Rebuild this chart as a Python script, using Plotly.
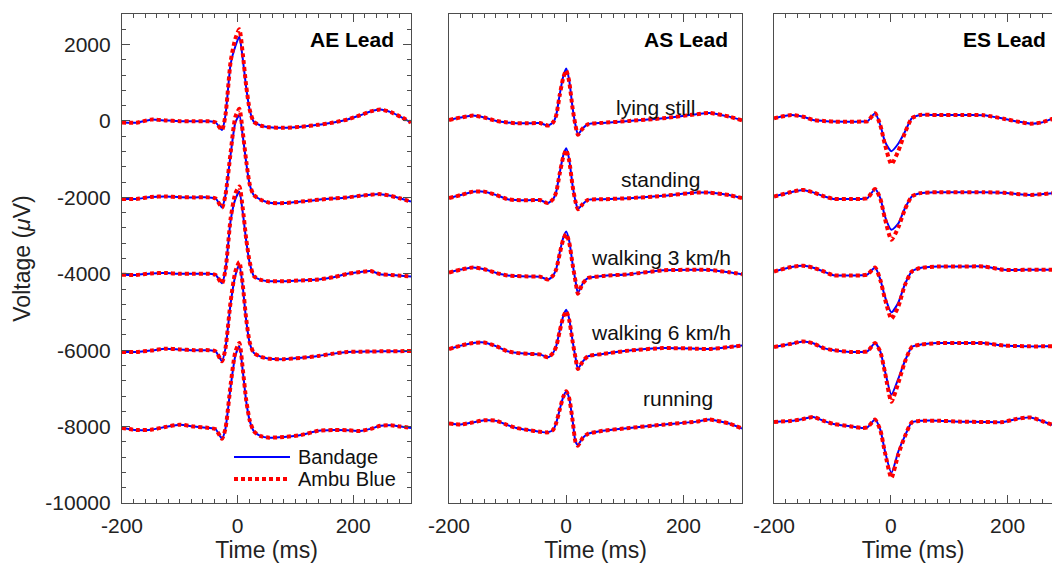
import plotly.graph_objects as go

# ---------------- data ----------------
conditions = ["lying still", "standing", "walking 3 km/h", "walking 6 km/h", "running"]
offsets = [0, -2000, -4000, -6000, -8000]
leads = ["AE Lead", "AS Lead", "ES Lead"]

t_ae = [-200, -175, -150, -125, -100, -75, -50, -38, -27, -21, -12, -4, 3, 9, 15, 21, 28, 40,
        55, 80, 110, 140, 166, 190, 212, 230, 247, 265, 282, 300]
ae_bandage = [
    [-40, -45, 35, 15, -5, -10, -10, -40, -235, 155, 1500, 1950, 2205, 1620, 860, 280, -20, -120,
     -165, -180, -150, -100, -40, 40, 150, 250, 300, 230, 110, -40],
    [-40, -40, 10, 25, 5, 0, 0, -30, -265, 60, 1130, 1950, 2155, 1600, 900, 330, 60, -60,
     -140, -150, -110, -60, -30, 0, 40, 70, 85, 40, -30, -110],
    [-25, -30, 10, 20, 0, 0, 0, -30, -250, 100, 1400, 1950, 2150, 1600, 850, 280, -60, -160,
     -195, -195, -175, -150, -90, 0, 45, 70, -10, -30, -50, -70],
    [-45, -45, -10, 40, 20, 0, 0, -30, -290, 50, 1230, 1950, 2235, 1650, 760, 180, -70, -170,
     -225, -235, -200, -150, -90, -45, -40, -35, -30, -25, -25, -20],
    [-35, -90, -80, -10, 50, 0, -35, -70, -320, -50, 1050, 1850, 2100, 1450, 650, 150, -120, -250,
     -290, -270, -220, -110, -90, -95, -115, -60, 20, 35, 0, -35],
]
ae_ambu = [
    [-40, -45, 35, 15, -5, -10, -10, -40, -235, 155, 1560, 2150, 2400, 1750, 900, 290, -20, -120,
     -165, -180, -150, -100, -40, 40, 150, 250, 300, 230, 110, -40],
    [-40, -40, 10, 25, 5, 0, 0, -30, -265, 60, 1180, 2100, 2320, 1700, 940, 340, 60, -60,
     -140, -150, -110, -60, -30, 0, 40, 70, 85, 40, -30, -110],
    [-25, -30, 10, 20, 0, 0, 0, -30, -250, 100, 1450, 2100, 2285, 1700, 900, 300, -60, -160,
     -195, -195, -175, -150, -90, 0, 45, 70, -10, -30, -50, -70],
    [-45, -45, -10, 40, 20, 0, 0, -30, -290, 50, 1280, 2050, 2310, 1700, 800, 200, -70, -170,
     -225, -235, -200, -150, -90, -45, -40, -35, -30, -25, -25, -20],
    [-35, -90, -80, -10, 50, 0, -35, -70, -320, -50, 1100, 1950, 2190, 1500, 680, 160, -120, -250,
     -290, -270, -220, -110, -90, -95, -115, -60, 20, 35, 0, -35],
]

t_as = [-200, -180, -159, -140, -119, -100, -85, -65, -45, -31, -22, -17, -11, -5, 0, 5, 11, 16,
        20, 28, 37, 62, 108, 165, 222, 244, 278, 300]
as_bandage = [
    [25, 90, 140, 90, 0, -40, -60, -60, -55, -120, -30, 160, 700, 1170, 1375, 1080, 330, -120,
     -350, -200, -87, -50, 0, 70, 175, 210, 113, 17],
    [-20, 60, 150, 150, 60, -50, -70, -75, -70, -150, -40, 150, 650, 1100, 1285, 1000, 300, -110,
     -300, -180, -65, -50, -20, 40, 125, 125, 60, -20],
    [35, 110, 165, 120, 20, -45, -60, -70, -75, -150, -40, 130, 560, 950, 1106, 870, 250, -200,
     -500, -260, -113, -60, -10, 90, 105, 100, 40, -10],
    [30, 120, 190, 200, 100, -30, -70, -95, -110, -186, -60, 110, 520, 900, 1059, 830, 230, -200,
     -482, -300, -160, -100, -10, 55, 40, 30, 80, 120],
    [80, 55, 110, 165, 150, 40, -35, -90, -135, -150, -80, 100, 450, 780, 920, 750, 150, -400,
     -480, -300, -190, -110, -35, 50, 130, 185, 80, -50],
]
as_ambu = [
    [25, 90, 140, 90, 0, -40, -60, -60, -55, -120, -30, 150, 680, 1130, 1320, 1040, 320, -130,
     -360, -200, -87, -50, 0, 70, 175, 210, 113, 17],
    [-20, 60, 150, 150, 60, -50, -70, -75, -70, -150, -40, 140, 630, 1060, 1240, 970, 290, -120,
     -310, -180, -65, -50, -20, 40, 125, 125, 60, -20],
    [35, 110, 165, 120, 20, -45, -60, -70, -75, -150, -40, 120, 530, 900, 1040, 830, 240, -210,
     -520, -260, -113, -60, -10, 90, 105, 100, 40, -10],
    [30, 120, 190, 200, 100, -30, -70, -95, -110, -186, -60, 100, 500, 870, 1020, 800, 220, -210,
     -495, -300, -160, -100, -10, 55, 40, 30, 80, 120],
    [80, 55, 110, 165, 150, 40, -35, -90, -135, -150, -80, 100, 450, 780, 925, 750, 150, -410,
     -500, -300, -190, -110, -35, 50, 130, 185, 80, -50],
]

t_es = [-200, -170, -150, -133, -115, -98, -70, -50, -40, -27, -18, -10, 1, 13, 24, 36, 50, 80,
        120, 159, 193, 215, 239, 258, 276, 300]
es_bandage = [
    [70, 155, 110, 25, 0, -17, -20, -15, -10, 200, -105, -540, -790, -590, -290, 70, 157, 155,
     155, 150, 60, -10, -70, -40, 50, 120],
    [20, 140, 195, 130, 30, -40, -40, -40, -20, 220, -20, -500, -850, -680, -290, 25, 110, 135,
     135, 135, 120, 90, 65, 80, 110, 110],
    [60, 180, 210, 160, 60, -40, -45, -40, -20, 165, -150, -600, -1010, -750, -280, 60, 150, 190,
     190, 190, 105, 100, 105, 105, 105, 105],
    [85, 170, 230, 180, 55, 0, -45, -45, -30, 188, -30, -550, -1160, -740, -290, 84, 145, 185,
     185, 185, 120, 110, 100, 100, 100, 100],
    [120, 150, 200, 250, 150, 70, 10, -35, -20, 183, -80, -645, -1210, -645, -250, 113, 150, 155,
     130, 120, 120, 200, 240, 150, 50, -20],
]
es_ambu = [
    [70, 155, 110, 25, 0, -17, -20, -15, -10, 200, -110, -620, -1130, -780, -320, 70, 157, 155,
     155, 150, 60, -10, -70, -40, 50, 120],
    [20, 140, 195, 130, 30, -40, -40, -40, -20, 220, -30, -560, -1110, -780, -320, 25, 110, 135,
     135, 135, 120, 90, 65, 80, 110, 110],
    [60, 180, 210, 160, 60, -40, -45, -40, -20, 165, -160, -660, -1176, -850, -300, 60, 150, 190,
     190, 190, 105, 100, 105, 105, 105, 105],
    [85, 170, 230, 180, 55, 0, -45, -45, -30, 188, -40, -580, -1350, -850, -310, 84, 145, 185,
     185, 185, 120, 110, 100, 100, 100, 100],
    [120, 150, 200, 250, 150, 70, 10, -35, -20, 183, -90, -680, -1340, -720, -260, 113, 150, 155,
     130, 120, 120, 200, 240, 150, 50, -20],
]

y_ticks = [-10000, -8000, -6000, -4000, -2000, 0, 2000]
y_ticktext = ["-10000", "-8000", "-6000", "-4000", "-2000", "0", "2000"]
x_ticks = [-200, 0, 200]
x_ticktext = ["-200", "0", "200"]

# ---------------- figure ----------------
FONT = "Liberation Sans, Arial, Helvetica, sans-serif"
FRAME = "#4d4d4d"
BLUE = "#0000ff"
RED = "#ff0000"

fig = go.Figure()
panels = [(t_ae, ae_bandage, ae_ambu), (t_as, as_bandage, as_ambu), (t_es, es_bandage, es_ambu)]
for p, (t, blue, red) in enumerate(panels):
    xa = "x" if p == 0 else f"x{p + 1}"
    ya = "y" if p == 0 else f"y{p + 1}"
    for k in range(len(conditions)):
        fig.add_trace(go.Scatter(
            x=t, y=[v + offsets[k] for v in blue[k]], xaxis=xa, yaxis=ya, mode="lines",
            line=dict(color=BLUE, width=2, shape="spline", smoothing=0.6),
            showlegend=False, hoverinfo="skip"))
    for k in range(len(conditions)):
        fig.add_trace(go.Scatter(
            x=t, y=[v + offsets[k] for v in red[k]], xaxis=xa, yaxis=ya, mode="lines",
            line=dict(color=RED, width=4, dash="4px,3px", shape="spline", smoothing=0.6),
            showlegend=False, hoverinfo="skip"))

W, H = 1052, 563
ML, MR, MT, MB = 122, 0, 14, 60
pw = W - ML - MR
dom_px = [(122, 411), (449, 742), (774, 1052)]
doms = [[(a - ML) / pw, (b - ML) / pw] for a, b in dom_px]
xranges = [[-200, 300], [-200, 300], [-200, 276]]

tickfont = dict(family=FONT, size=21, color="#222222")
titlefont = dict(family=FONT, size=23, color="#222222")

for p in range(3):
    xkey = "xaxis" if p == 0 else f"xaxis{p + 1}"
    ykey = "yaxis" if p == 0 else f"yaxis{p + 1}"
    ya = "y" if p == 0 else f"y{p + 1}"
    xa = "x" if p == 0 else f"x{p + 1}"
    fig.layout[xkey] = dict(
        domain=doms[p], anchor=ya, range=xranges[p], tickmode="array", tickvals=x_ticks,
        ticktext=x_ticktext,
        ticks="inside", ticklen=8, tickwidth=1, tickcolor=FRAME, showline=True,
        linecolor=FRAME, linewidth=1.2, mirror="allticks", showgrid=False, zeroline=False,
        tickfont=tickfont, ticklabelstandoff=4,
        minor=dict(dtick=20, ticks="inside", ticklen=4, tickcolor=FRAME, showgrid=False),
        title=dict(text="Time (ms)", font=titlefont, standoff=1),
    )
    if p == 0:
        fig.layout[ykey] = dict(
            domain=[0, 1], anchor=xa, range=[-10000, 2800], tickmode="array", tickvals=y_ticks,
            ticktext=y_ticktext,
            ticks="inside", ticklen=8, tickwidth=1, tickcolor=FRAME, showline=True,
            linecolor=FRAME, linewidth=1.2, mirror="allticks", showgrid=False, zeroline=False,
            tickfont=tickfont, ticklabelstandoff=6,
            minor=dict(dtick=400, ticks="inside", ticklen=4, tickcolor=FRAME, showgrid=False),
            title=dict(text="Voltage (<i>μ</i>V)", font=titlefont, standoff=8),
        )
    else:
        fig.layout[ykey] = dict(
            domain=[0, 1], anchor=xa, range=[-10000, 2800], showticklabels=False, ticks="",
            showline=True, linecolor=FRAME, linewidth=1.2, mirror=(p == 1),
            showgrid=False, zeroline=False,
        )

annotations = []
title_right = [396, 730, 1048]
for p in range(3):
    xa = "x" if p == 0 else f"x{p + 1}"
    ya = "y" if p == 0 else f"y{p + 1}"
    a, b = dom_px[p]
    annotations.append(dict(
        text=f"<b>{leads[p]}</b>", xref=f"{xa} domain", yref=f"{ya} domain",
        x=(title_right[p] - a) / (b - a), y=(503 - 39) / 489, xanchor="right", yanchor="middle",
        showarrow=False, font=dict(family=FONT, size=21, color="#000000")))

cond_px = [(655, 107), (660, 179), (661, 257), (661, 332), (678, 398)]
a, b = dom_px[1]
for name, (cx, cy) in zip(conditions, cond_px):
    annotations.append(dict(
        text=name, xref="x2 domain", yref="y2 domain", x=(cx - a) / (b - a),
        y=(503 - cy) / 489, xanchor="center", yanchor="middle", showarrow=False,
        font=dict(family=FONT, size=21, color="#111111")))

# legend (drawn inside the first panel)
a, b = dom_px[0]
leg_items = [("Bandage", 457, dict(color=BLUE, width=2)),
             ("Ambu Blue", 479, dict(color=RED, width=4, dash="4px,3px"))]
shapes = []
for name, py, ln in leg_items:
    yy = (503 - py) / 489
    shapes.append(dict(type="line", xref="x domain", yref="y domain",
                       x0=(234 - a) / (b - a), x1=(290 - a) / (b - a), y0=yy, y1=yy, line=ln))
    annotations.append(dict(
        text=name, xref="x domain", yref="y domain", x=(296 - a) / (b - a), y=yy,
        xanchor="left", yanchor="middle", showarrow=False,
        font=dict(family=FONT, size=20, color="#111111")))

fig.update_layout(
    width=W, height=H, margin=dict(l=ML, r=MR, t=MT, b=MB),
    paper_bgcolor="white", plot_bgcolor="white", showlegend=False,
    annotations=annotations, shapes=shapes, font=dict(family=FONT),
)

fig.write_html("out.html")
